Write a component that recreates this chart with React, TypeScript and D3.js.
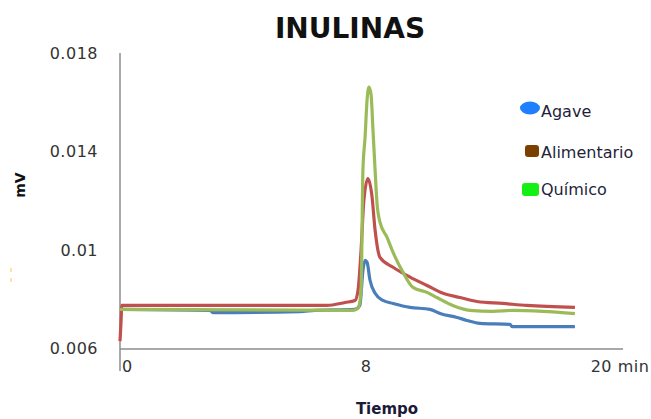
import React from 'react'
import * as d3 from 'd3'

// tiempo (min) / mV
const agaveT = [0, 2.93, 3.02, 5.85, 6.34, 7.64, 7.8, 7.9, 7.97, 8.05, 8.19, 8.43, 8.8, 9.28, 10.08, 11.02, 11.5, 12.3, 12.77, 13.38, 14.8, 14.9, 17.87]
const agaveV = [0.00759, 0.00755, 0.00746, 0.0075, 0.00755, 0.00759, 0.00775, 0.00917, 0.00958, 0.0095, 0.00877, 0.00824, 0.00795, 0.00783, 0.00767, 0.00759, 0.00742, 0.00726, 0.00714, 0.00702, 0.00698, 0.00689, 0.00689]

const alimT = [0, 0.03, 0.06, 6.73, 7.32, 7.64, 7.74, 7.84, 7.93, 8.09, 8.28, 8.43, 8.66, 9.28, 10.08, 10.88, 11.64, 12.44, 13.24, 14.47, 15.6, 17.87]
const alimV = [0.0063, 0.007, 0.00775, 0.00775, 0.00787, 0.00795, 0.00836, 0.01, 0.012, 0.0129, 0.0122, 0.0108, 0.0097, 0.0093, 0.0089, 0.00856, 0.00824, 0.00807, 0.00791, 0.00783, 0.00775, 0.00767]

const quimT = [0, 7.58, 7.74, 7.84, 7.9, 7.97, 8.05, 8.14, 8.24, 8.33, 8.43, 8.52, 8.66, 8.99, 9.28, 9.75, 10.22, 10.88, 11.35, 12.1, 12.91, 13.99, 14.94, 16.36, 17.87]
const quimV = [0.00759, 0.00755, 0.00763, 0.00836, 0.01324, 0.01458, 0.01609, 0.01662, 0.0163, 0.01487, 0.01324, 0.0119, 0.01113, 0.01052, 0.0099, 0.00909, 0.00848, 0.00828, 0.00807, 0.00775, 0.00755, 0.00751, 0.00755, 0.00751, 0.00742]

const yTicks = [0.006, 0.01, 0.014, 0.018]
const yTickLabels = ['0.006', '0.01', '0.014', '0.018']
const xTicks = [0, 8, 20]
const xTickLabels = ['0', '8', '20 min']

const series = [
  { name: 'Agave', t: agaveT, v: agaveV, color: '#4a7ebb', key: '#1e80ff' },
  { name: 'Alimentario', t: alimT, v: alimV, color: '#c0504d', key: '#7b3f00' },
  { name: 'Químico', t: quimT, v: quimV, color: '#9bbb59', key: '#14f014' },
]
// drawing order: blue, red, green on top

export default function App() {
  const x = d3.scaleLinear().domain([0, 8, 20]).range([120, 366, 620])
  const y = d3.scaleLinear().domain([0.006, 0.018]).range([348.5, 53])

  const font = 'DejaVu Sans, Verdana, sans-serif'

  return (
    <svg width={651} height={419} style={{ position: 'absolute', left: 0, top: 0, background: '#fff' }}
      fontFamily={font}>
      <rect x={0} y={0} width={651} height={419} fill="#fff" />

      <text x={350} y={38} textAnchor="middle" fontSize={28} fontWeight="bold" fill="#111">INULINAS</text>

      {/* axes */}
      <line x1={120} x2={120} y1={53} y2={371} stroke="#8c8c8c" strokeWidth={1.5} />
      <line x1={120} x2={623} y1={349} y2={349} stroke="#8c8c8c" strokeWidth={1.5} />

      {yTicks.map((t, i) => (
        <text key={t} x={98} y={y(t)} dy="0.36em" textAnchor="end" fontSize={16}
          letterSpacing={0.5} fill="#333">{yTickLabels[i]}</text>
      ))}
      {xTicks.map((t, i) => (
        <text key={t} x={i === 0 ? x(t) + 2 : x(t)} y={372} textAnchor={i === 0 ? 'start' : 'middle'}
          fontSize={16} letterSpacing={0.5} fill="#333">{xTickLabels[i]}</text>
      ))}

      <text transform="translate(25,185) rotate(-90)" textAnchor="middle" fontSize={14}
        fontWeight="bold" fill="#111">mV</text>
      <text x={387} y={414} textAnchor="middle" fontSize={15} fontWeight="bold" fill="#1a1a3a">Tiempo</text>

      {/* stray marks left of the axis */}
      <rect x={10} y={268} width={2} height={4} fill="#ffe2a6" />
      <rect x={10} y={278} width={2} height={4} fill="#ffe2a6" />

      {series.map((s) => {
        const pts = s.t.map((t, i) => [x(t), y(s.v[i])] as [number, number])
        const path = d3.line<[number, number]>().x((d) => d[0]).y((d) => d[1])
          .curve(d3.curveMonotoneX)(pts)
        return <path key={s.name} d={path || ''} fill="none" stroke={s.color} strokeWidth={3.2}
          strokeLinejoin="round" />
      })}

      {/* legend */}
      <ellipse cx={530} cy={108} rx={10} ry={6.5} fill={series[0].key} />
      <rect x={525} y={145} width={14} height={12} rx={3} fill={series[1].key} />
      <rect x={522} y={183} width={17} height={13} rx={3} fill={series[2].key} />
      {series.map((s, i) => (
        <text key={s.name} x={541} y={[111, 152, 189][i]} dy="0.36em" fontSize={16} fill="#1f1f3a">{s.name}</text>
      ))}
    </svg>
  )
}
